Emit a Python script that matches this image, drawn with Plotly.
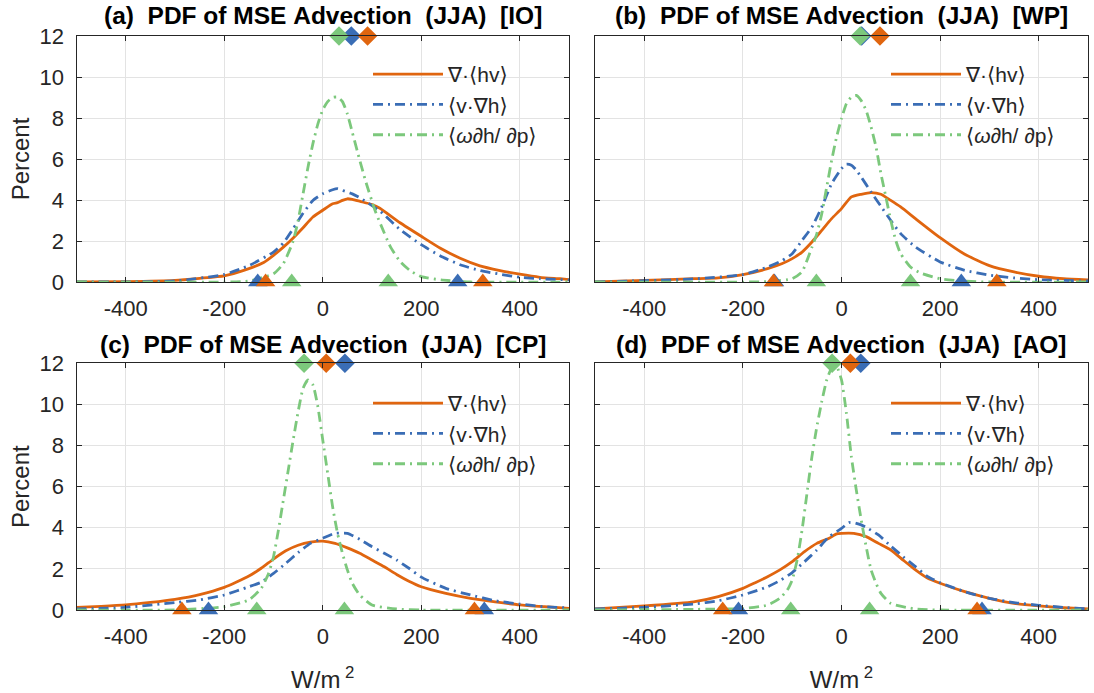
import plotly.graph_objects as go

# ---------------- data ----------------
panel_titles = ["(a)  PDF of MSE Advection  (JJA)  [IO]",
                "(b)  PDF of MSE Advection  (JJA)  [WP]",
                "(c)  PDF of MSE Advection  (JJA)  [CP]",
                "(d)  PDF of MSE Advection  (JJA)  [AO]"]
series_names = ["∇·⟨hv⟩", "⟨v·∇h⟩", "⟨<i>ω∂</i>h/ <i>∂</i>p⟩"]
x_tickvals = [-400, -200, 0, 200, 400]
x_ticktext = ["-400", "-200", "0", "200", "400"]
y_tickvals = [0, 2, 4, 6, 8, 10, 12]

# panel (a) IO
a_div_x = [-500,-400,-300,-250,-200,-150,-120,-100,-80,-60,-40,-20,0,20,30,40,50,60,76,100,116,157,200,238,279,319,360,400,441,482,500]
a_div_y = [0,0.02,0.08,0.18,0.3,0.65,0.95,1.3,1.7,2.15,2.65,3.17,3.5,3.82,3.87,3.98,4.06,4.03,3.93,3.78,3.6,2.89,2.23,1.66,1.16,0.79,0.56,0.38,0.23,0.16,0.12]
a_adv_x = [-500,-300,-200,-150,-100,-80,-60,-40,-20,0,20,30,40,60,76,116,157,200,238,279,319,360,400,441,500]
a_adv_y = [0,0.05,0.37,0.8,1.46,1.9,2.6,3.35,3.98,4.3,4.5,4.55,4.47,4.3,4.1,3.46,2.56,1.82,1.28,0.84,0.56,0.38,0.23,0.16,0.1]
a_om_x = [-500,-200,-150,-100,-80,-60,-50,-40,-30,-20,-10,0,10,20,30,40,50,60,70,86,106,116,137,157,177,200,240,300,500]
a_om_y = [0,0,0.05,0.4,0.9,2.0,3.0,4.3,5.6,6.75,7.7,8.4,8.8,9.0,9.02,8.8,8.2,7.3,6.4,5.0,3.5,2.9,1.74,1.0,0.56,0.26,0.1,0,0]

# panel (b) WP
b_div_x = [-500,-400,-300,-250,-200,-150,-120,-100,-80,-60,-40,-20,0,20,40,60,80,100,120,150,200,250,300,350,400,450,500]
b_div_y = [0,0.08,0.16,0.2,0.36,0.65,0.9,1.14,1.46,1.95,2.52,3.09,3.58,4.15,4.28,4.36,4.28,3.98,3.66,3.09,2.16,1.35,0.8,0.49,0.28,0.16,0.1]
b_adv_x = [-500,-300,-200,-150,-120,-100,-80,-60,-40,-20,0,10,20,30,40,60,80,100,120,150,200,250,300,350,400,500]
b_adv_y = [0,0.15,0.36,0.73,1.05,1.38,2.03,2.68,3.66,4.8,5.53,5.75,5.7,5.46,5.12,4.39,3.69,3.0,2.36,1.71,0.98,0.57,0.33,0.2,0.11,0.05]
b_om_x = [-500,-150,-100,-80,-60,-50,-40,-30,-20,-10,0,10,20,30,40,50,60,70,80,90,100,110,120,140,160,200,250,300,500]
b_om_y = [0,0.02,0.16,0.5,1.7,2.36,3.33,4.63,5.93,7.07,7.97,8.7,9.02,9.1,8.85,8.37,7.56,6.59,5.28,4.15,3.0,2.03,1.38,0.73,0.44,0.16,0.04,0,0]

# panel (c) CP
c_div_x = [-500,-450,-400,-350,-300,-250,-200,-175,-150,-125,-100,-75,-50,-25,0,25,50,75,100,125,150,175,200,250,300,350,400,450,500]
c_div_y = [0.13,0.18,0.25,0.37,0.52,0.75,1.1,1.36,1.65,2.03,2.48,2.88,3.15,3.3,3.35,3.24,3.02,2.76,2.43,2.1,1.73,1.4,1.13,0.81,0.57,0.4,0.25,0.16,0.08]
c_adv_x = [-500,-400,-300,-250,-200,-150,-125,-100,-75,-50,-25,0,25,50,75,100,125,150,175,200,250,300,350,400,450,500]
c_adv_y = [0.05,0.13,0.36,0.49,0.73,1.13,1.35,1.78,2.27,2.79,3.24,3.49,3.73,3.73,3.44,3.08,2.76,2.43,2.03,1.6,1.05,0.73,0.45,0.29,0.16,0.1]
c_om_x = [-500,-300,-200,-150,-125,-110,-100,-90,-80,-70,-60,-50,-40,-30,-20,-10,0,10,20,30,40,50,60,75,100,150,200,500]
c_om_y = [0,0,0.16,0.49,1.05,1.78,2.59,3.89,5.35,6.81,8.27,9.65,10.78,11.19,10.95,9.9,8.27,6.65,5.03,3.73,2.76,1.95,1.3,0.73,0.24,0.05,0,0]

# panel (d) AO
d_div_x = [-500,-400,-300,-250,-200,-175,-150,-125,-100,-75,-50,-25,-10,0,25,50,75,100,125,150,175,200,250,300,350,400,450,500]
d_div_y = [0.05,0.2,0.4,0.65,1.05,1.33,1.62,1.95,2.35,2.84,3.24,3.49,3.7,3.73,3.73,3.57,3.24,2.92,2.43,1.95,1.54,1.3,0.89,0.57,0.32,0.2,0.11,0.05]
d_adv_x = [-500,-400,-300,-250,-200,-150,-125,-100,-75,-50,-25,0,15,25,40,50,75,100,125,150,175,200,250,300,350,400,450,500]
d_adv_y = [0.05,0.13,0.29,0.45,0.73,1.13,1.43,1.82,2.35,2.92,3.57,3.97,4.25,4.25,4.14,4.02,3.65,3.11,2.59,2.11,1.62,1.33,0.89,0.57,0.36,0.23,0.13,0.05]
d_om_x = [-500,-200,-150,-125,-110,-100,-90,-80,-70,-60,-50,-40,-30,-20,-10,0,10,20,30,40,50,60,70,80,100,150,200,500]
d_om_y = [0,0.08,0.24,0.57,0.97,1.46,2.43,3.89,5.68,7.46,8.92,10.14,11.19,11.76,11.84,11.19,9.57,7.46,5.84,4.38,3.08,1.95,1.3,0.81,0.32,0.05,0,0]

# mean markers (diamonds, drawn at top) and percentile markers (triangles, at bottom)
mean_div = [91, 78, 7, 18]
mean_adv = [58, 41, 45, 39]
mean_om = [33, 38, -38, -19]
pct_div = [[-116, 325], [-138, 315], [-286, 308], [-241, 275]]
pct_adv = [[-132, 274], [-136, 243], [-232, 328], [-209, 285]]
pct_om = [[-63, 133], [-51, 140], [-134, 44], [-103, 57]]

# ---------------- styling ----------------
W, H = 1094, 693
C_DIV = "#E0650F"
C_ADV = "#3A6DB5"
C_OM = "#7CC87C"
FONT = "Liberation Sans, Arial, DejaVu Sans, sans-serif"
TXT = "#262626"
DASHDOT = "10px,5px,2px,5px"

xdom = [[76.5 / W, 569 / W], [595 / W, 1088 / W]]
ydom = [[1 - 282 / H, 1 - 36 / H], [1 - 610 / H, 1 - 363.3 / H]]

panels = [
    (a_div_x, a_div_y, a_adv_x, a_adv_y, a_om_x, a_om_y),
    (b_div_x, b_div_y, b_adv_x, b_adv_y, b_om_x, b_om_y),
    (c_div_x, c_div_y, c_adv_x, c_adv_y, c_om_x, c_om_y),
    (d_div_x, d_div_y, d_adv_x, d_adv_y, d_om_x, d_om_y),
]

fig = go.Figure()
layout = dict(width=W, height=H, autosize=False, margin=dict(l=0, r=0, t=0, b=0, pad=0),
              paper_bgcolor="white", plot_bgcolor="white",
              font=dict(family=FONT, color=TXT), annotations=[])

for i, (dx, dy, ax_, ay, ox, oy) in enumerate(panels):
    row, col = i // 2, i % 2
    sfx = "" if i == 0 else str(i + 1)
    xa, ya = "x" + sfx, "y" + sfx
    leg = "legend" + sfx
    specs = [(dx, dy, C_DIV, "solid", series_names[0]),
             (ax_, ay, C_ADV, DASHDOT, series_names[1]),
             (ox, oy, C_OM, DASHDOT, series_names[2])]
    for k, (x, y, c, dash, nm) in enumerate(specs):
        fig.add_trace(go.Scatter(x=x, y=y, mode="lines", name=nm,
                                 line=dict(color=c, width=2.8, dash=dash, shape="spline", smoothing=0.5),
                                 xaxis=xa, yaxis=ya, legend=leg, legendgroup=f"g{i}{k}",
                                 hoverinfo="skip"))
    # diamonds at the top
    for val, c in [(mean_adv[i], C_ADV), (mean_om[i], C_OM), (mean_div[i], C_DIV)]:
        fig.add_trace(go.Scatter(x=[val], y=[12], mode="markers", showlegend=False,
                                 marker=dict(symbol="diamond", size=15, color=c, line=dict(width=0)),
                                 cliponaxis=False, xaxis=xa, yaxis=ya, hoverinfo="skip"))
    # triangles at the bottom
    for vals, c in [(pct_adv[i], C_ADV), (pct_div[i], C_DIV), (pct_om[i], C_OM)]:
        fig.add_trace(go.Scatter(x=vals, y=[0, 0], mode="markers", showlegend=False,
                                 marker=dict(symbol="triangle-up", size=17, color=c, line=dict(width=0)),
                                 cliponaxis=False, xaxis=xa, yaxis=ya, hoverinfo="skip"))

    xkey = "xaxis" + sfx
    ykey = "yaxis" + sfx
    layout[xkey] = dict(domain=xdom[col], anchor=ya, range=[-500, 500], automargin=False,
                        tickvals=x_tickvals, ticktext=x_ticktext, ticks="inside", ticklen=5,
                        tickcolor=TXT, showline=True, linecolor=TXT, linewidth=1, mirror="allticks",
                        showgrid=True, gridcolor="#E3E3E3", gridwidth=1, zeroline=False,
                        tickfont=dict(size=22, color=TXT, family=FONT), ticklabelstandoff=7,
                        fixedrange=True)
    layout[ykey] = dict(domain=ydom[row], anchor=xa, range=[0, 12], automargin=False,
                        tickvals=y_tickvals, ticks="inside", ticklen=5,
                        tickcolor=TXT, showline=True, linecolor=TXT, linewidth=1, mirror="allticks",
                        showgrid=True, gridcolor="#E3E3E3", gridwidth=1, zeroline=False,
                        tickfont=dict(size=22, color=TXT, family=FONT), ticklabelstandoff=7,
                        showticklabels=(col == 0), fixedrange=True)
    if col == 0:
        layout[ykey]["title"] = dict(text="Percent", font=dict(size=24, color=TXT, family=FONT), standoff=3)
    if row == 1:
        layout[xkey]["title"] = dict(text="W/m<sup> 2</sup>", font=dict(size=24, color=TXT, family=FONT), standoff=24)

    legx = (368 / W) if col == 0 else (886 / W)
    legy = (1 - 54 / H) if row == 0 else (1 - 383 / H)
    layout[leg] = dict(x=legx, y=legy, xanchor="left", yanchor="top",
                       bgcolor="rgba(0,0,0,0)", borderwidth=0, itemwidth=70,
                       font=dict(size=21, color=TXT, family=FONT),
                       traceorder="grouped", tracegroupgap=0, itemclick=False, itemdoubleclick=False)

    cx = (xdom[col][0] + xdom[col][1]) / 2
    ty = (1 - 16 / H) if row == 0 else (1 - 344 / H)
    layout["annotations"].append(dict(text="<b>" + panel_titles[i].replace(" ", "\u00a0") + "</b>",
                                      x=cx, y=ty, xref="paper", yref="paper",
                                      xanchor="center", yanchor="middle", showarrow=False,
                                      font=dict(size=24.5, color="black", family=FONT)))

fig.update_layout(**layout)
fig.write_html("out.html")
